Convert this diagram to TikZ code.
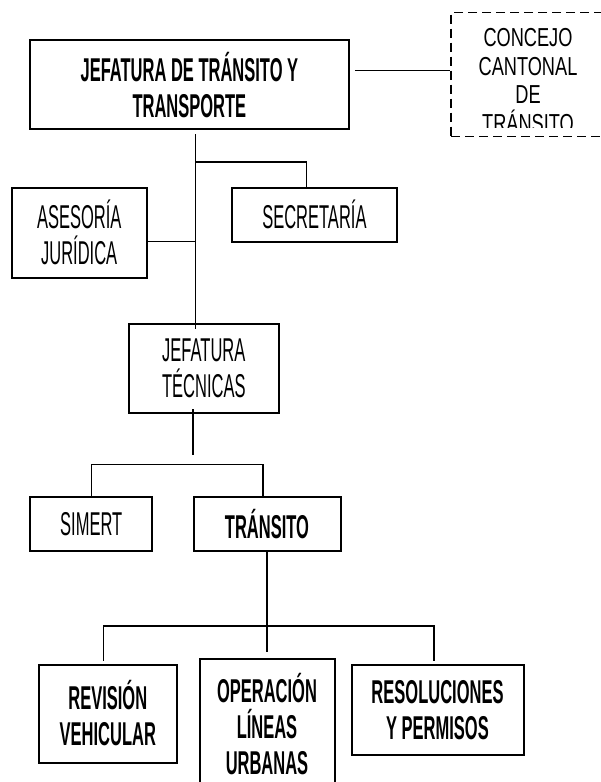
\documentclass[tikz,border=0pt]{standalone}
\usepackage{fontspec}
\setmainfont[FakeStretch=0.5]{Liberation Sans}
\newfontfamily\concejofont[FakeStretch=0.7]{Liberation Sans}

\tikzset{
box/.style={draw, line width=2pt, align=center, inner sep=0pt, font=\fontsize{33}{36}\selectfont},
bbox/.style={box, font=\fontsize{33}{36}\selectfont\bfseries},
link/.style={line width=1.4pt}
}

\begin{document}
\begin{tikzpicture}[x=1pt,y=-1pt]
\clip (0,0) rectangle (601,782);
\node [bbox, minimum width=319pt, minimum height=89pt] (jefatura) at (189.4,84.7) {JEFATURA DE TRÁNSITO Y\\TRANSPORTE};
\node [draw, dash pattern=on 9pt off 5pt, line width=1.5pt, minimum width=161pt, minimum height=124pt] (concejo) at (531.5,74.5) {};
\begin{scope}
\clip (452,14) rectangle (601,127);
\node [align=center, inner sep=0pt, font=\concejofont\fontsize{26}{28.4}\selectfont] (concejotext) at (528,80.5) {CONCEJO\\CANTONAL\\DE\\TRÁNSITO};
\end{scope}
\node [box, minimum width=135pt, minimum height=90pt] (asesoria) at (79.2,232.5) {ASESORÍA\\JURÍDICA};
\node [box, minimum width=165pt, minimum height=54pt] (secretaria) at (314.4,214.5) {SECRETARÍA};
\node [box, minimum width=150pt, minimum height=89pt] (tecnica) at (203.8,368.7) {JEFATURA\\TÉCNICAS};
\node [box, minimum width=122pt, minimum height=54pt] (simert) at (91.2,524) {SIMERT};
\node [bbox, minimum width=147pt, minimum height=54pt] (transito) at (267,524) {TRÁNSITO};
\node [bbox, minimum width=138pt, minimum height=98pt] (revision) at (107.8,713.5) {REVISIÓN\\VEHICULAR};
\node [bbox, minimum width=135pt, minimum height=130pt] (operacion) at (267,724) {OPERACIÓN\\LÍNEAS\\URBANAS};
\node [bbox, minimum width=172pt, minimum height=90pt] (resoluciones) at (437.5,710) {RESOLUCIONES\\Y PERMISOS};

% lines
\coordinate (trunk) at (195.5,134);
\coordinate (b1) at (195.5,162);
\coordinate (b2) at (192.8,455);
\coordinate (bus2) at (192.8,464.3);
\coordinate (bus3) at (267,626);
\draw [link] ([xshift=5pt,yshift=14pt]jefatura.east) -- ([yshift=14pt]jefatura.east -| concejo.west);
\draw [link] (trunk) -- ([yshift=-6pt]trunk |- tecnica.north);
\draw [link] (b1) -| ([xshift=-8pt]secretaria.north);
\draw [link] ([yshift=-9pt]asesoria.east) -- ([yshift=-9pt]asesoria.east -| trunk);
\draw [link] ([xshift=-11pt,yshift=5pt]tecnica.south) -- (b2);
\draw [link] (simert.north) |- (bus2) -| ([xshift=-4pt]transito.north);
\draw [link] (transito.south) -- ([yshift=6pt]operacion.north);
\draw [link] ([xshift=-4.5pt,yshift=3pt]revision.north) |- (bus3) -| ([xshift=-3.5pt,yshift=3pt]resoluciones.north);
\end{tikzpicture}
\end{document}
